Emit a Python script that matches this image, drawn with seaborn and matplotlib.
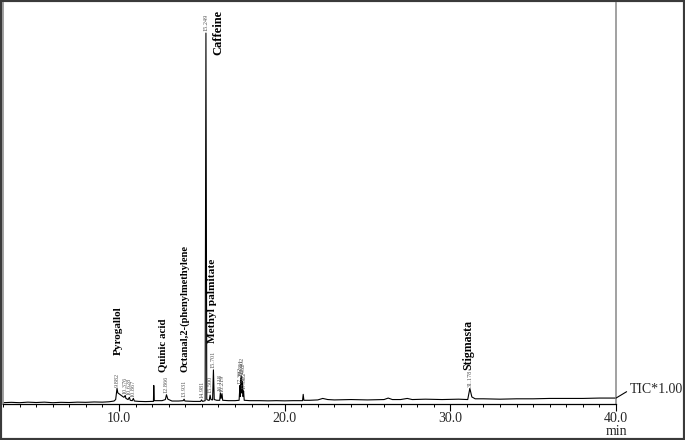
import numpy as np
import pandas as pd
import matplotlib.pyplot as plt
import seaborn as sns
from matplotlib.patches import Rectangle
from matplotlib.ticker import MultipleLocator, FormatStrFormatter

# chromatogram trace (relative intensity, caffeine = 100)
times = [3.0, 3.5, 4.0, 4.5, 5.0, 5.5, 6.0, 6.5, 7.0, 7.5, 8.0, 8.5, 9.0, 9.4, 9.7,
         9.80, 9.882, 9.93, 10.05, 10.2, 10.30, 10.376, 10.42, 10.55, 10.628, 10.68,
         10.80, 10.867, 10.93, 11.2, 11.6, 12.0, 12.08, 12.10, 12.13, 12.3, 12.6,
         12.80, 12.866, 12.95, 13.2, 13.6, 13.88, 13.931, 13.98, 14.5, 14.93, 14.981,
         15.05, 15.20, 15.249, 15.30, 15.40, 15.45, 15.500, 15.55, 15.65, 15.701,
         15.75, 15.90, 16.08, 16.118, 16.16, 16.219, 16.26, 16.6, 17.0, 17.25,
         17.302, 17.33, 17.351, 17.38, 17.402, 17.43, 17.462, 17.49, 17.522, 17.56,
         17.9, 18.5, 19.0, 19.5, 20.0, 20.5, 21.0, 21.08, 21.12, 21.16, 21.5, 22.0,
         22.3, 22.6, 23.0, 24.0, 25.0, 26.0, 26.25, 26.5, 27.0, 27.4, 27.7, 28.5,
         29.5, 30.5, 31.05, 31.178, 31.3, 31.5, 32.0, 33.0, 34.0, 35.0, 36.0, 37.0,
         38.0, 39.0, 40.0]
intensity = [0.35, 0.45, 0.35, 0.5, 0.4, 0.5, 0.35, 0.45, 0.4, 0.5, 0.45, 0.55, 0.5, 0.6, 0.8,
             1.2, 4.2, 3.0, 2.6, 2.1, 1.8, 2.3, 1.5, 1.2, 1.8, 1.0,
             0.9, 1.5, 0.8, 0.7, 0.65, 0.7, 0.7, 5.0, 0.9, 0.9, 0.9,
             1.2, 2.5, 1.3, 0.8, 0.8, 0.9, 1.3, 0.8, 0.7, 0.7, 1.1,
             0.7, 0.9, 100.0, 1.2, 1.0, 1.0, 2.4, 1.2, 1.1, 9.2,
             1.2, 1.0, 1.0, 3.0, 1.5, 2.8, 1.0, 0.9, 0.9, 1.0,
             5.0, 2.0, 7.0, 3.0, 7.5, 3.0, 6.0, 2.0, 3.5, 1.0,
             0.9, 0.9, 0.85, 0.9, 0.85, 0.9, 0.9, 0.9, 2.6, 1.0, 1.0, 1.1,
             1.5, 1.2, 1.1, 1.2, 1.1, 1.2, 1.6, 1.2, 1.2, 1.5, 1.2, 1.3,
             1.2, 1.3, 1.2, 4.2, 1.9, 1.4, 1.4, 1.3, 1.4, 1.4, 1.5, 1.5,
             1.5, 1.6, 1.6]

# retention times printed above the peaks
rt_labels = ["9.882", "10.376", "10.628", "10.867", "12.866", "13.931", "14.981",
             "15.249", "15.500", "15.701", "16.118", "16.219", "17.302", "17.351",
             "17.402", "17.462", "17.522", "31.178"]

# identified compounds
compounds = ["Pyrogallol", "Quinic acid", "Octanal,2-(phenylmethylene",
             "Methyl palmitate", "Caffeine", "Stigmasta"]
compound_rt = [9.94, 12.65, 13.95, 15.67, 15.97, 31.06]
compound_y = [13.2, 8.6, 8.6, 16.4, 106.2, 9.2]

df = pd.DataFrame({"time": times, "intensity": intensity})

sns.set_style("white")
plt.rcParams["font.family"] = ["Liberation Serif", "DejaVu Serif"]

fig = plt.figure(figsize=(6.85, 4.4), dpi=100)
ax = fig.add_axes([3 / 685, 36 / 440, 613 / 685, 401 / 440])

sns.lineplot(data=df, x="time", y="intensity", ax=ax, color="black", lw=0.8)

ax.set_xlim(3, 40)
ax.set_ylim(0, 108.1)
ax.set_xlabel("")
ax.set_ylabel("")
ax.set_yticks([])

ax.xaxis.set_major_locator(MultipleLocator(10))
ax.xaxis.set_minor_locator(MultipleLocator(1))
ax.xaxis.set_major_formatter(FormatStrFormatter("%.1f"))
ax.tick_params(axis="x", which="major", direction="out", length=5, width=0.8,
               color="black", labelsize=10, pad=1, bottom=True)
ax.tick_params(axis="x", which="minor", direction="out", length=2.5, width=0.7,
               color="black", bottom=True)

for side in ["left", "right"]:
    ax.spines[side].set_color("#9a9a9a")
    ax.spines[side].set_linewidth(1.3)
ax.spines["top"].set_visible(False)
ax.spines["bottom"].set_color("black")
ax.spines["bottom"].set_linewidth(0.9)

# retention time labels on the peak tops
for lab in rt_labels:
    t = float(lab)
    top = df.loc[(df["time"] - t).abs() < 0.01, "intensity"].max()
    ax.text(t, top + 0.5, lab, rotation=90, ha="center", va="bottom",
            fontsize=4.5, color="#555555")

# compound names
name_sizes = {"Pyrogallol": 8, "Quinic acid": 7.8, "Octanal,2-(phenylmethylene": 7.6,
              "Methyl palmitate": 8.2, "Caffeine": 9, "Stigmasta": 8.6}
for name, t, y in zip(compounds, compound_rt, compound_y):
    va = "top" if name == "Caffeine" else "bottom"
    ax.text(t, y, name, rotation=90, ha="center", va=va, fontsize=name_sizes[name],
            fontweight="bold", color="black")

ax.annotate("min", xy=(40, 0), xycoords=("data", "axes fraction"),
            xytext=(0, -20), textcoords="offset points", ha="center",
            va="center", fontsize=10, annotation_clip=False)
ax.annotate("TIC*1.00", xy=(40, intensity[-1]), xytext=(10, 6),
            textcoords="offset points", ha="left", va="center", fontsize=10,
            annotation_clip=False,
            arrowprops=dict(arrowstyle="-", lw=0.8, color="black",
                            shrinkA=0, shrinkB=0, relpos=(0, 0.5)))

fig.add_artist(Rectangle((0, 0), 1, 1, transform=fig.transFigure, fill=False,
                         lw=3, ec="#3a3a3a"))

fig.savefig("out.png", dpi=100)
